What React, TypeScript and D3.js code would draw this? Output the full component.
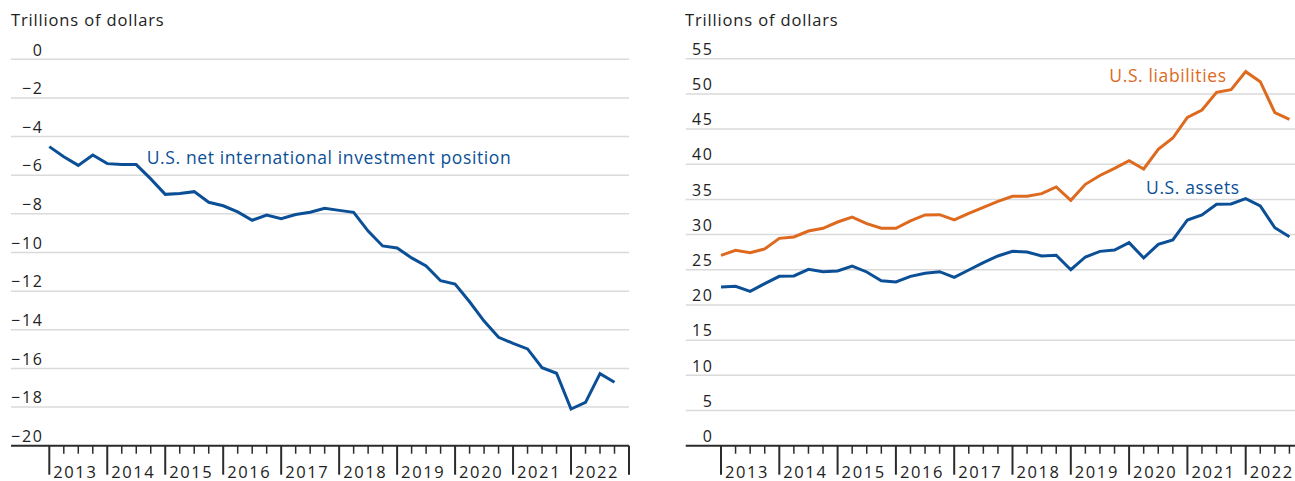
import React from 'react';
import * as d3 from 'd3';

const years = [2013, 2014, 2015, 2016, 2017, 2018, 2019, 2020, 2021, 2022];
const quarterTimes = years.flatMap((y) => [0, 0.25, 0.5, 0.75].map((q) => y + q));

const niip = [-4.52, -5.04, -5.49, -4.95, -5.4, -5.45, -5.45, -6.19, -6.99, -6.94, -6.85, -7.4, -7.58, -7.9, -8.33, -8.06, -8.25, -8.03, -7.92, -7.71, -7.82, -7.92, -8.89, -9.66, -9.77, -10.28, -10.7, -11.46, -11.63, -12.55, -13.55, -14.39, -14.7, -14.99, -15.96, -16.25, -18.1, -17.76, -16.27, -16.72];
const liabilities = [27.06, 27.77, 27.43, 27.96, 29.47, 29.66, 30.51, 30.9, 31.79, 32.5, 31.55, 30.9, 30.9, 31.95, 32.79, 32.83, 32.08, 33.03, 33.88, 34.73, 35.44, 35.44, 35.82, 36.77, 34.87, 37.15, 38.4, 39.42, 40.51, 39.33, 42.13, 43.73, 46.67, 47.71, 50.22, 50.6, 53.16, 51.73, 47.33, 46.39];
const assets = [22.56, 22.65, 21.94, 23.03, 24.07, 24.12, 25.07, 24.73, 24.83, 25.54, 24.69, 23.45, 23.27, 24.06, 24.5, 24.73, 23.93, 24.97, 26.01, 26.96, 27.63, 27.53, 26.96, 27.06, 25.01, 26.82, 27.62, 27.81, 28.86, 26.68, 28.62, 29.24, 32.08, 32.79, 34.31, 34.35, 35.11, 34.07, 30.98, 29.7];

const leftTicks = [0, -2, -4, -6, -8, -10, -12, -14, -16, -18, -20];
const rightTicks = [0, 5, 10, 15, 20, 25, 30, 35, 40, 45, 50, 55];
const unitLabel = 'Trillions of dollars';
const niipLabel = 'U.S. net international investment position';
const liabLabel = 'U.S. liabilities';
const assetsLabel = 'U.S. assets';

const BLUE = '#0b4f97';
const ORANGE = '#dd6a1f';
const GRID = '#dadada';
const AXIS = '#2b2b2b';
const TEXT = '#222';
const FONT = "'Open Sans', sans-serif";
const NUM_LS = 1.8;

const fmt = (v: number) => (v < 0 ? '\u2212' + Math.abs(v) : String(v));

type PanelProps = {
  gridLeft: number;
  gridRight: number;
  xStart: number;
  xEnd: number;
  yScale: d3.ScaleLinear<number, number>;
  ticks: number[];
  labelRight: number;
  titleX: number;
  bottomValue: number;
  children: (x: d3.ScaleLinear<number, number>) => React.ReactNode;
};

function Panel({ gridLeft, gridRight, xStart, xEnd, yScale, ticks, labelRight, titleX, bottomValue, children }: PanelProps) {
  const x = d3.scaleLinear().domain([2013, 2023]).range([xStart, xEnd]);
  const axisY = yScale(bottomValue);
  const majors = [...years, 2023];
  const minors = quarterTimes.filter((t) => t % 1 !== 0);
  return (
    <g>
      <text x={titleX} y={25.5} fontSize={16.5} fill={TEXT} fontFamily={FONT} letterSpacing={0.85}>{unitLabel}</text>
      {ticks.filter((t) => t !== bottomValue).map((t) => (
        <line key={'g' + t} x1={gridLeft} x2={gridRight} y1={yScale(t)} y2={yScale(t)} stroke={GRID} strokeWidth={1.5} />
      ))}
      {ticks.map((t) => (
        <text key={'l' + t} x={labelRight + NUM_LS} y={yScale(t) - 3.8} textAnchor="end" fontSize={16} fill={TEXT} fontFamily={FONT} letterSpacing={NUM_LS}>{fmt(t)}</text>
      ))}
      {children(x)}
      <line x1={gridLeft} x2={gridRight} y1={axisY} y2={axisY} stroke={AXIS} strokeWidth={2} />
      {majors.map((yr) => (
        <line key={'M' + yr} x1={x(yr)} x2={x(yr)} y1={axisY} y2={axisY + 29} stroke={AXIS} strokeWidth={2} />
      ))}
      {minors.map((t) => (
        <line key={'m' + t} x1={x(t)} x2={x(t)} y1={axisY} y2={axisY + 8} stroke={AXIS} strokeWidth={1.5} />
      ))}
      {years.map((yr) => (
        <text key={'y' + yr} x={x(yr) + 4} y={477.5} fontSize={16.5} fill={TEXT} fontFamily={FONT} letterSpacing={1.6}>{yr}</text>
      ))}
    </g>
  );
}

export default function App() {
  const yLeft = d3.scaleLinear().domain([-20, 0]).range([445.7, 59.3]);
  const yRight = d3.scaleLinear().domain([0, 55]).range([445.7, 58.7]);

  const mkLine = (x: d3.ScaleLinear<number, number>, y: d3.ScaleLinear<number, number>, vals: number[]) =>
    d3.line<number>().x((_, i) => x(quarterTimes[i])).y((v) => y(v))(vals) || '';

  return (
    <svg width={1295} height={481} style={{ position: 'absolute', left: 0, top: 0, display: 'block', background: '#fff' }}>
      <Panel gridLeft={11} gridRight={629} xStart={49.3} xEnd={629} yScale={yLeft} ticks={leftTicks} labelRight={42} titleX={11} bottomValue={-20}>
        {(x) => (
          <g>
            <path d={mkLine(x, yLeft, niip)} fill="none" stroke={BLUE} strokeWidth={3} />
            <text x={146.7} y={164.3} fontSize={17.5} fill={BLUE} fontFamily={FONT} letterSpacing={0.62}>{niipLabel}</text>
          </g>
        )}
      </Panel>
      <Panel gridLeft={685.7} gridRight={1295} xStart={721} xEnd={1304} yScale={yRight} ticks={rightTicks} labelRight={712} titleX={685} bottomValue={0}>
        {(x) => (
          <g>
            <path d={mkLine(x, yRight, liabilities)} fill="none" stroke={ORANGE} strokeWidth={3} />
            <path d={mkLine(x, yRight, assets)} fill="none" stroke={BLUE} strokeWidth={3} />
            <text x={1109.3} y={82.3} fontSize={17.5} fill={ORANGE} fontFamily={FONT} letterSpacing={0.62}>{liabLabel}</text>
            <text x={1146} y={194.3} fontSize={17.5} fill={BLUE} fontFamily={FONT} letterSpacing={0.62}>{assetsLabel}</text>
          </g>
        )}
      </Panel>
    </svg>
  );
}
